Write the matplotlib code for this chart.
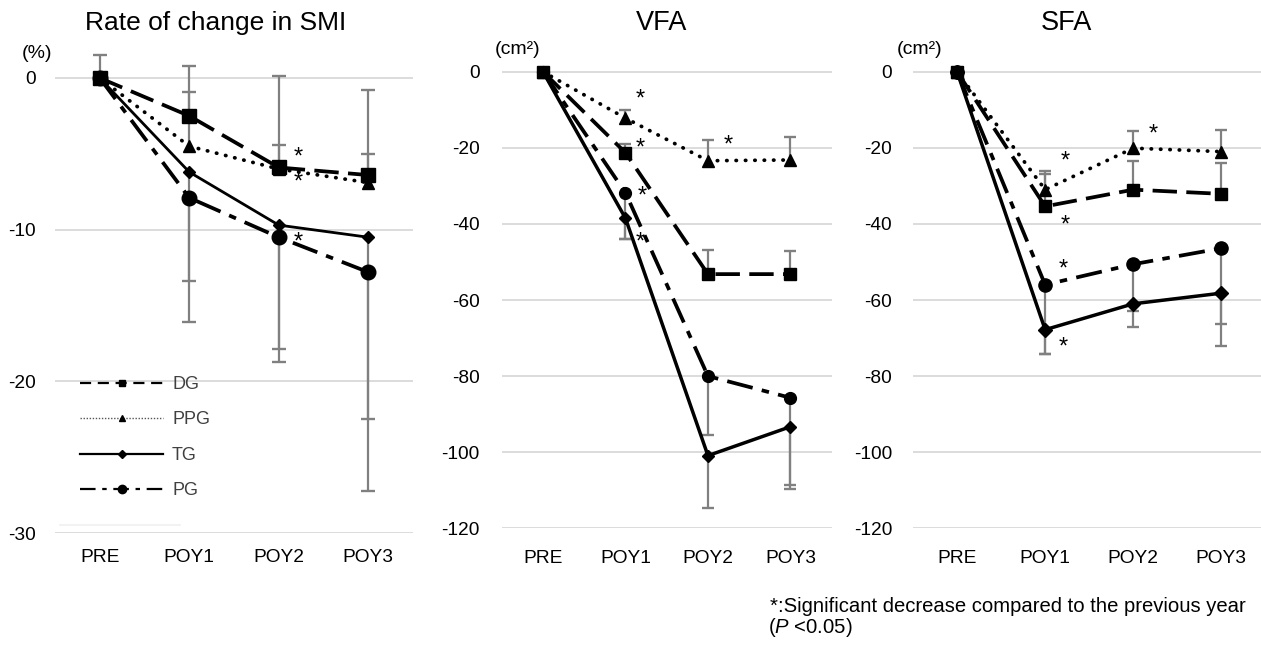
import matplotlib
matplotlib.use('Agg')
import matplotlib.pyplot as plt
from matplotlib.lines import Line2D

plt.rcParams['font.family'] = ['Liberation Sans', 'DejaVu Sans']
plt.rcParams['mathtext.fontset'] = 'custom'
plt.rcParams['mathtext.rm'] = 'Liberation Sans'
plt.rcParams['mathtext.it'] = 'Liberation Sans:italic'

# ---------------- data ----------------
categories = ['PRE', 'POY1', 'POY2', 'POY3']
groups = ['DG', 'PPG', 'TG', 'PG']

# Rate of change in SMI (%)
smi_dg = [0, -2.5, -5.9, -6.4]
smi_ppg = [0, -4.5, -6.0, -6.9]
smi_tg = [0, -6.2, -9.7, -10.5]
smi_pg = [0, -7.9, -10.5, -12.8]
smi_dg_err = [1.5, 3.3, 6.05, 5.6]     # upper
smi_ppg_err = [0, 3.6, 1.6, 1.9]       # upper
smi_tg_err = [0, 7.2, 8.2, 12.0]       # lower
smi_pg_err = [0, 8.2, 8.2, 14.4]       # lower
smi_star_x = [2.22, 2.22, 2.22]
smi_star_y = [-5.27, -6.92, -10.88]

# VFA (cm2)
vfa_dg = [0, -21.3, -53.2, -53.2]
vfa_ppg = [0, -12.2, -23.4, -23.2]
vfa_tg = [0, -38.5, -100.9, -93.3]
vfa_pg = [0, -31.8, -80.0, -85.7]
vfa_dg_err = [0, 2.3, 6.4, 6.2]
vfa_ppg_err = [0, 2.1, 5.5, 6.1]
vfa_tg_err = [0, 5.4, 13.8, 16.5]
vfa_pg_err = [0, 12.1, 15.6, 22.8]
vfa_star_x = [1.18, 1.18, 1.20, 1.18, 2.25]
vfa_star_y = [-7.2, -20.1, -32.7, -45.0, -19.3]

# SFA (cm2)
sfa_dg = [0, -35.4, -31.0, -32.1]
sfa_ppg = [0, -31.0, -20.1, -21.0]
sfa_tg = [0, -67.8, -61.0, -58.2]
sfa_pg = [0, -56.0, -50.6, -46.4]
sfa_dg_err = [0, 8.5, 7.6, 8.2]
sfa_ppg_err = [0, 4.9, 4.5, 5.7]
sfa_tg_err = [0, 6.3, 6.2, 14.0]
sfa_pg_err = [0, 18.1, 12.2, 19.9]
sfa_star_x = [1.23, 2.23, 1.23, 1.21, 1.21]
sfa_star_y = [-23.5, -16.6, -40.3, -52.1, -72.5]

# ---------------- style ----------------
W, H = 1261, 649
ERR = '#808080'
GRID = '#d9d9d9'
styles = {
    'DG':  dict(ls=(0, (6.5, 2.5)), marker='s'),
    'PPG': dict(ls=(0, (0.1, 2.4)), marker='^', dash_capstyle='round'),
    'TG':  dict(ls='-', marker='D'),
    'PG':  dict(ls=(0, (7, 2.5, 2, 2.5)), marker='o'),
}

fig = plt.figure(figsize=(W / 100, H / 100), dpi=100)


def px_axes(left, right, top, bottom):
    return fig.add_axes([left / W, 1 - bottom / H, (right - left) / W, (bottom - top) / H])


def draw_err(ax, x, y, e, up, capms):
    for xi, yi, ei in zip(x, y, e):
        if ei <= 0:
            continue
        y2 = yi + ei if up else yi - ei
        ax.vlines(xi, yi, y2, color=ERR, lw=1.6, zorder=1)
        ax.plot([xi], [y2], marker='_', ms=capms, mew=1.7, color=ERR, zorder=1)


def panel(ax, series, errs, ylim, yticks, xlim, lw, ms, capms, stars, xpad, ypad):
    x = list(range(len(categories)))
    ax.set_xlim(*xlim)
    ax.set_ylim(*ylim)
    ax.set_yticks(yticks)
    ax.set_yticklabels([str(t) for t in yticks])
    ax.set_xticks(x)
    ax.set_xticklabels(categories)
    for s in ax.spines.values():
        s.set_visible(False)
    ax.tick_params(axis='both', length=0, labelsize=13.8)
    ax.tick_params(axis='x', pad=xpad)
    ax.tick_params(axis='y', pad=ypad)
    for t in yticks:
        ax.axhline(t, color=GRID, lw=1.3, zorder=0)
    for g in groups:
        draw_err(ax, x, series[g], errs[g], g in ('DG', 'PPG'), capms)
    for g, z in zip(['TG', 'PG', 'PPG', 'DG'], [3, 4, 5, 6]):
        st = styles[g]
        ax.plot(x, series[g], color='black', lw=lw[g], ls=st['ls'],
                marker=st['marker'], ms=ms[g], mec='black', mfc='black',
                dash_capstyle=st.get('dash_capstyle', 'butt'), zorder=z)
    for sx, sy in zip(*stars):
        ax.text(sx, sy, '*', fontsize=17, ha='center', va='center', zorder=7)


# Left panel: SMI
ax1 = px_axes(55, 413, 78 - 2 * 15.17, 533)
panel(ax1,
      {'DG': smi_dg, 'PPG': smi_ppg, 'TG': smi_tg, 'PG': smi_pg},
      {'DG': smi_dg_err, 'PPG': smi_ppg_err, 'TG': smi_tg_err, 'PG': smi_pg_err},
      (-30, 2), [0, -10, -20, -30], (-0.5, 3.5),
      {'DG': 2.7, 'PPG': 2.7, 'TG': 2.0, 'PG': 2.7},
      {'DG': 10, 'PPG': 9, 'TG': 6.5, 'PG': 10.5}, 10,
      (smi_star_x, smi_star_y), 11.5, 14)

# faint line artifact near the bottom-left of the SMI panel
ax1.plot([0.014, 0.349], [0.0165, 0.0165], transform=ax1.transAxes,
         color='#f0f0f0', lw=1.2, zorder=0)

leg_handles = [
    Line2D([], [], color='black', lw=1.6, ls=(0, (5, 3)), marker='s', ms=4.5),
    Line2D([], [], color='#555555', lw=1.0, ls=(0, (1, 1.2)), marker='^', ms=5, mfc='black', mec='black'),
    Line2D([], [], color='black', lw=1.6, ls='-', marker='D', ms=3.8),
    Line2D([], [], color='black', lw=1.6, ls=(0, (7, 3, 2, 3)), marker='o', ms=6),
]
leg = ax1.legend(leg_handles, groups, loc='upper left',
                 bbox_to_anchor=((80 - 55) / 358, (533 - 376) / 485.3),
                 frameon=False, fontsize=13, handlelength=4.6,
                 handletextpad=0.5, labelspacing=1.02, borderpad=0, borderaxespad=0)
for t in leg.get_texts():
    t.set_color('#404040')

# Middle panel: VFA
ax2 = px_axes(501.7, 831.7, 71.7 - 5 * 3.805, 528.3)
panel(ax2,
      {'DG': vfa_dg, 'PPG': vfa_ppg, 'TG': vfa_tg, 'PG': vfa_pg},
      {'DG': vfa_dg_err, 'PPG': vfa_ppg_err, 'TG': vfa_tg_err, 'PG': vfa_pg_err},
      (-120, 5), [0, -20, -40, -60, -80, -100, -120], (-0.5, 3.5),
      {'DG': 2.7, 'PPG': 2.7, 'TG': 2.5, 'PG': 2.7},
      {'DG': 8.5, 'PPG': 8, 'TG': 6.3, 'PG': 8.5}, 8.5,
      (vfa_star_x, vfa_star_y), 15.5, 16)

# Right panel: SFA
ax3 = px_axes(913, 1261, 71.7 - 5 * 3.805, 528.3)
panel(ax3,
      {'DG': sfa_dg, 'PPG': sfa_ppg, 'TG': sfa_tg, 'PG': sfa_pg},
      {'DG': sfa_dg_err, 'PPG': sfa_ppg_err, 'TG': sfa_tg_err, 'PG': sfa_pg_err},
      (-120, 5), [0, -20, -40, -60, -80, -100, -120], (-0.5, 3.45),
      {'DG': 2.7, 'PPG': 2.7, 'TG': 2.5, 'PG': 2.7},
      {'DG': 9, 'PPG': 8.5, 'TG': 6.8, 'PG': 9.5}, 9,
      (sfa_star_x, sfa_star_y), 15.5, 15)


def ftext(xp, yp, s, **kw):
    fig.text(xp / W, 1 - yp / H, s, **kw)


# titles
ftext(216, 30, 'Rate of change in SMI', fontsize=19, ha='center', va='baseline')
ftext(662, 29.5, 'VFA', fontsize=19.5, ha='center', va='baseline')
ftext(1066, 29.5, 'SFA', fontsize=19.5, ha='center', va='baseline')

# unit labels
ftext(36.7, 54, '(%)', fontsize=14, ha='center', va='center')
ftext(518, 49, '(cm²)', fontsize=14, ha='center', va='center')
ftext(920, 49, '(cm²)', fontsize=14, ha='center', va='center')

# footnote
ftext(770, 612, '*:Significant decrease compared to the previous year',
      fontsize=14.6, ha='left', va='baseline')
ftext(768, 633, r'($\mathit{P}$ <0.05)', fontsize=14.6, ha='left', va='baseline')

fig.savefig('out.png', dpi=100)
